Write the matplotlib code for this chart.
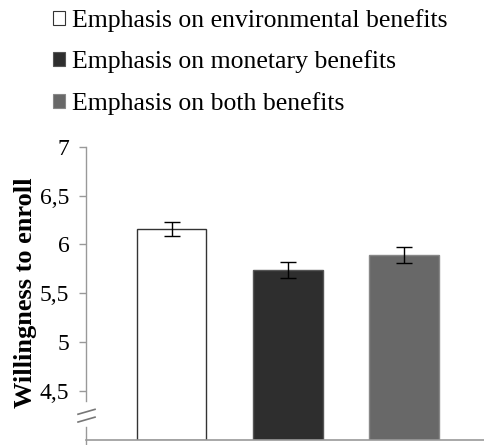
import matplotlib.pyplot as plt
import matplotlib.transforms as mtransforms
from matplotlib.patches import Patch

plt.rcParams['font.family'] = ['Liberation Serif', 'DejaVu Serif']

# data
conditions = ['Emphasis on environmental benefits',
              'Emphasis on monetary benefits',
              'Emphasis on both benefits']
means = [6.16, 5.74, 5.89]
errors = [0.07, 0.08, 0.08]
yticks = [4.5, 5, 5.5, 6, 6.5, 7]
yticklabels = ['4,5', '5', '5,5', '6', '6,5', '7']

colors = ['white', '#2e2e2e', '#686868']
edges = ['#333333', '#555555', '#888888']
axis_grey = '#999999'

fig = plt.figure(figsize=(4.85, 4.45), dpi=100)
ax = fig.add_axes([86 / 485, 5.4 / 445, 399 / 485, (439.6 - 146.8) / 445])

xpos = list(range(len(means)))
for i in xpos:
    ax.bar(xpos[i], means[i] - 4, bottom=4, width=0.595, color=colors[i],
           edgecolor=edges[i], linewidth=1.0, zorder=2)
ax.errorbar(xpos, means, yerr=errors, fmt='none', ecolor='black',
            elinewidth=1.0, capsize=5.5, capthick=1.0, zorder=3)

ax.set_ylim(4, 7)
ax.set_xlim(-0.741, 2.698)
ax.set_yticks(yticks)
ax.set_yticklabels(yticklabels, fontsize=17)
ax.set_xticks([])
ax.tick_params(axis='y', direction='out', length=5, width=1,
               color=axis_grey, pad=7)

for s in ['top', 'right', 'left']:
    ax.spines[s].set_visible(False)
ax.spines['bottom'].set_color(axis_grey)
ax.spines['bottom'].set_linewidth(1.2)

# broken y axis
trans = mtransforms.blended_transform_factory(ax.transAxes, ax.transData)
ax.plot([0, 0], [7, 4.40], color=axis_grey, lw=1, transform=trans,
        clip_on=False)
ax.plot([0, 0], [4.13, 3.945], color=axis_grey, lw=1, transform=trans,
        clip_on=False)
ax.plot([-0.02, 0.0226], [4.26, 4.31], color='#777777', lw=1.2,
        transform=trans, clip_on=False)
ax.plot([-0.02, 0.0226], [4.18, 4.23], color='#777777', lw=1.2,
        transform=trans, clip_on=False)

ax.set_ylabel('Willingness to enroll', fontsize=19, fontweight='bold',
              labelpad=2)

handles = [Patch(facecolor=colors[i], edgecolor=edges[i], linewidth=0.8)
           for i in xpos]
fig.legend(handles, conditions, loc='upper left',
           bbox_to_anchor=(53 / 485, 1 - 9 / 445), frameon=False,
           fontsize=18.5, handlelength=0.47, handleheight=0.47,
           handletextpad=0.27, labelspacing=0.72, borderaxespad=0,
           borderpad=0)

fig.savefig('out.png', dpi=100)
